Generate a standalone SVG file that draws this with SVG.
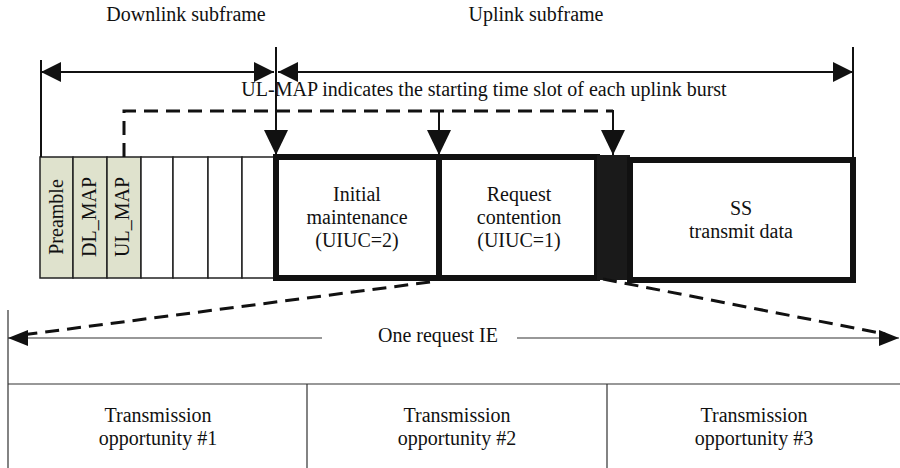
<svg xmlns="http://www.w3.org/2000/svg" width="900" height="468" viewBox="0 0 900 468">
<defs>
<style>
text{font-family:'Liberation Serif','Times New Roman',Times,Tinos,'Nimbus Roman','DejaVu Serif',serif;font-size:20px;fill:#111;text-anchor:middle}
.thin{stroke:#111;stroke-width:2;fill:none}
.hair{stroke:#333;stroke-width:1.2;fill:none}
.dash{stroke:#111;stroke-width:3;fill:none;stroke-dasharray:14 8}
.cell{fill:#dfe2cd;stroke:#222;stroke-width:1.5}
.wcell{fill:#fff;stroke:#222;stroke-width:1.5}
.thick{fill:#fff;stroke:#111;stroke-width:6}
</style>
<marker id="ah" markerUnits="userSpaceOnUse" markerWidth="20" markerHeight="20" refX="20" refY="10" orient="auto-start-reverse"><path d="M0,0 L20,10 L0,20 z" fill="#111"/></marker>
<marker id="ahd" markerUnits="userSpaceOnUse" markerWidth="25" markerHeight="24" refX="25" refY="12" orient="auto"><path d="M0,0 L25,12 L0,24 z" fill="#111"/></marker>
<marker id="ahs" markerUnits="userSpaceOnUse" markerWidth="20" markerHeight="16" refX="20" refY="8" orient="auto-start-reverse"><path d="M0,0 L20,8 L0,16 z" fill="#111"/></marker>
</defs>
<rect width="900" height="468" fill="#fff"/>

<g id="labels">
<text x="186" y="21">Downlink subframe</text>
<text x="536" y="21">Uplink subframe</text>
<text x="484" y="96">UL-MAP indicates the starting time slot of each uplink burst</text>
</g>

<g id="downlink-cells">
<rect class="cell" x="40" y="157" width="33" height="121"/>
<rect class="cell" x="73" y="157" width="34" height="121"/>
<rect class="cell" x="107" y="157" width="34" height="121"/>
<rect class="wcell" x="141" y="157" width="32" height="121"/>
<rect class="wcell" x="173" y="157" width="35" height="121"/>
<rect class="wcell" x="208" y="157" width="34" height="121"/>
<rect class="wcell" x="242" y="157" width="34" height="121"/>
<text transform="translate(63,217) rotate(-90)">Preamble</text>
<text transform="translate(96,217) rotate(-90)">DL_MAP</text>
<text transform="translate(129,217) rotate(-90)">UL_MAP</text>
</g>

<g id="initial-maintenance">
<rect class="thick" x="276" y="157" width="163" height="121"/>
<text x="357" y="201">Initial</text>
<text x="357" y="224">maintenance</text>
<text x="357" y="247">(UIUC=2)</text>
</g>

<g id="request-contention">
<rect class="thick" x="439" y="157" width="158" height="121"/>
<text x="519" y="201">Request</text>
<text x="519" y="224">contention</text>
<text x="519" y="247">(UIUC=1)</text>
</g>

<g id="black-slot">
<rect x="597" y="155" width="33" height="125" fill="#1a1a1a"/>
</g>

<g id="ss-data">
<rect class="thick" x="630" y="160" width="223" height="120"/>
<text x="741" y="215">SS</text>
<text x="741" y="238">transmit data</text>
</g>

<g id="request-ie">
<path class="hair" d="M8,310 V468 M8,384 H900 M307,384 V468 M607,384 V468"/>
<text x="438" y="342">One request IE</text>
<text x="158" y="422">Transmission</text>
<text x="158" y="445">opportunity #1</text>
<text x="457" y="422">Transmission</text>
<text x="457" y="445">opportunity #2</text>
<text x="754" y="422">Transmission</text>
<text x="754" y="445">opportunity #3</text>
</g>

<g id="connectors">
<path class="thin" d="M41,60 V157"/>
<path class="thin" d="M853,47 V157"/>
<path class="thin" d="M276,47 V155" marker-end="url(#ahd)"/>
<path class="thin" d="M41,72 H274" marker-start="url(#ah)" marker-end="url(#ah)"/>
<path class="thin" d="M278,72 H853" marker-start="url(#ah)" marker-end="url(#ah)"/>
<path class="dash" d="M124,157 V111 H613"/>
<path class="thin" stroke-width="3" d="M439,110 V155" marker-end="url(#ahd)"/>
<path class="thin" stroke-width="3" d="M613,110 V155" marker-end="url(#ahd)"/>
<path class="hair" d="M8,338 H322" marker-start="url(#ahs)"/>
<path class="hair" d="M517,338 H899" marker-end="url(#ahs)"/>
<path class="dash" d="M430,282 L22,335"/>
<path class="dash" d="M603,279 L885,334"/>
</g>
</svg>
